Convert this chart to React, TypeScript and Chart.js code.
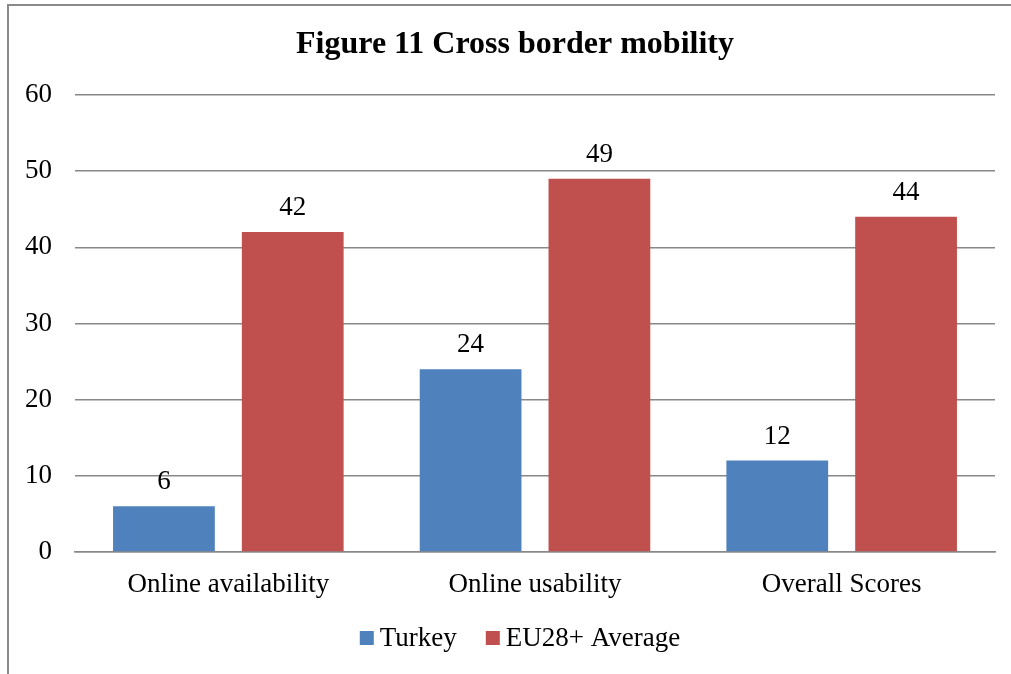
import React, { useEffect, useRef } from "react";
import { Chart, registerables } from "chart.js";

Chart.register(...registerables);

const categories = ["Online availability", "Online usability", "Overall Scores"];
const turkey = [6, 24, 12];
const eu28 = [42, 49, 44];
const seriesNames = ["Turkey", "EU28+ Average"];
const seriesColors = ["#4F81BD", "#C0504D"];
const titleText = "Figure 11 Cross border mobility";

const FONT = "'Liberation Serif', 'Times New Roman', serif";
// The chart frame runs from x=8 to beyond the right edge of the view (about x=1022)
const FRAME_CENTER = 515;

const valueLabels = {
  id: "valueLabels",
  afterDatasetsDraw(chart: any) {
    const ctx = chart.ctx;
    ctx.save();
    ctx.font = `27px ${FONT}`;
    ctx.fillStyle = "#000";
    ctx.textAlign = "center";
    ctx.textBaseline = "middle";
    chart.data.datasets.forEach((ds: any, i: number) => {
      const meta = chart.getDatasetMeta(i);
      meta.data.forEach((bar: any, j: number) => {
        ctx.fillText(String(ds.data[j]), bar.x, bar.y - 24);
      });
    });
    ctx.restore();
  },
};

const titleAndLegend = {
  id: "titleAndLegend",
  afterDraw(chart: any) {
    const ctx = chart.ctx;
    ctx.save();
    ctx.fillStyle = "#000";
    ctx.textAlign = "center";
    ctx.textBaseline = "middle";
    ctx.font = `bold 32px ${FONT}`;
    ctx.fillText(titleText, FRAME_CENTER, 45);

    // legend
    ctx.font = `27px ${FONT}`;
    const box = 14;
    const gap = 6;
    const itemGap = 29;
    const widths = chart.data.datasets.map((ds: any) => box + gap + ctx.measureText(ds.label).width);
    const total = widths.reduce((a: number, b: number) => a + b, 0) + itemGap * (widths.length - 1);
    let x = FRAME_CENTER + 5 - total / 2;
    const y = 638;
    ctx.textAlign = "left";
    chart.data.datasets.forEach((ds: any, i: number) => {
      ctx.fillStyle = ds.backgroundColor;
      ctx.fillRect(x, y - box / 2, box, box);
      ctx.fillStyle = "#000";
      ctx.fillText(ds.label, x + box + gap, y + 1);
      x += widths[i] + itemGap;
    });
    ctx.restore();
  },
};

export default function App() {
  const ref = useRef<HTMLCanvasElement>(null);
  useEffect(() => {
    if (!ref.current) return;
    const chart = new Chart(ref.current, {
      type: "bar",
      data: {
        labels: categories,
        datasets: [
          { label: seriesNames[0], data: turkey, backgroundColor: seriesColors[0], categoryPercentage: 0.84, barPercentage: 0.79 },
          { label: seriesNames[1], data: eu28, backgroundColor: seriesColors[1], categoryPercentage: 0.84, barPercentage: 0.79 },
        ],
      },
      options: {
        responsive: false,
        animation: false,
        layout: { padding: { left: 10, right: 16, top: 95, bottom: 70 } },
        plugins: {
          title: { display: false },
          legend: { display: false },
          tooltip: { enabled: false },
        },
        scales: {
          x: {
            grid: { display: false, drawTicks: false },
            border: { color: "#888", width: 1.5 },
            ticks: { color: "#000", font: { family: FONT, size: 27 }, padding: 17 },
            afterFit: (s: any) => { s.height = 52; },
          },
          y: {
            min: 0,
            max: 60,
            ticks: { stepSize: 10, color: "#000", font: { family: FONT, size: 27 }, padding: 23 },
            grid: { color: "#888", lineWidth: 1.5, drawTicks: false },
            border: { display: false },
            afterFit: (s: any) => { s.width = 65; },
          },
        },
      },
      plugins: [valueLabels, titleAndLegend],
    });
    return () => chart.destroy();
  }, []);

  return (
    <div style={{ position: "fixed", left: 0, top: 0, width: 1011, height: 674, overflow: "hidden", background: "#fff" }}>
      <div style={{ position: "absolute", left: 7, top: 4, width: 1100, height: 800, border: "2px solid #8a8a8a" }} />
      <canvas ref={ref} width={1011} height={674} style={{ position: "absolute", left: 0, top: 0 }} />
    </div>
  );
}
